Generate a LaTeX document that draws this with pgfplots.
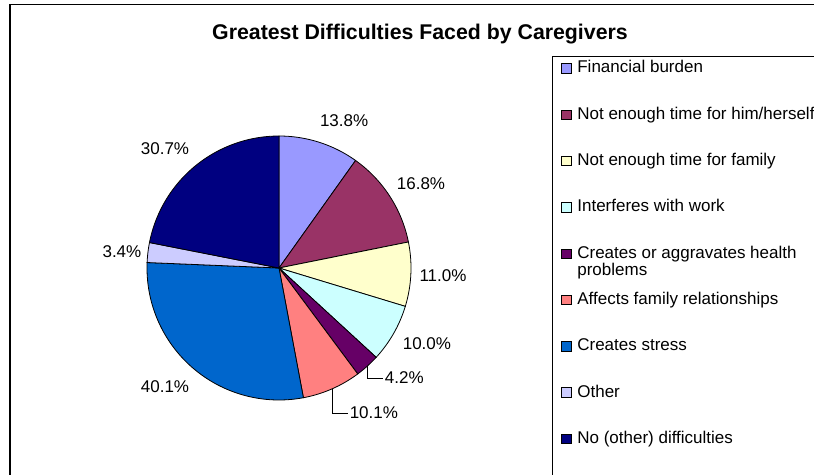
\documentclass[border=0pt]{standalone}
\usepackage{fontspec}
\setmainfont{Liberation Sans}
\usepackage{pgfplots}
\pgfplotsset{compat=1.18}
\usepackage{pgfplotstable}
\usepgfplotslibrary{polar}

\definecolor{pie0}{HTML}{9999FF}
\definecolor{pie1}{HTML}{993366}
\definecolor{pie2}{HTML}{FFFFCC}
\definecolor{pie3}{HTML}{CCFFFF}
\definecolor{pie4}{HTML}{660066}
\definecolor{pie5}{HTML}{FF8080}
\definecolor{pie6}{HTML}{0066CC}
\definecolor{pie7}{HTML}{CCCCFF}
\definecolor{pie8}{HTML}{000080}

% share naming each difficulty (%); where its label sits (angle, radius); leader line or not
\pgfplotstableread{
value labang labrad lead
13.8    66.1  1.218  0
16.8    30.6  1.250  0
11.0    -2.8  1.244  0
10.0   -27.2  1.260  0
4.2    -46.6  1.147  1
10.1   -64.6  1.217  1
40.1  -133.8  1.248  0
3.4    174.2  1.196  0
30.7   133.8  1.248  0
}\piedata

\def\labfont{\fontsize{17}{20}\selectfont}

\begin{document}
\begin{tikzpicture}[x=1pt,y=1pt]
\useasboundingbox (0,0) rectangle (814,474);

\pgfplotstablegetrowsof{\piedata}
\pgfmathtruncatemacro\lastrow{\pgfplotsretval-1}
\def\total{0}
\pgfplotsforeachungrouped \i in {0,...,\lastrow}{%
  \pgfplotstablegetelem{\i}{value}\of\piedata
  \pgfmathsetmacro\total{\total+\pgfplotsretval}%
}

\begin{polaraxis}[
  at={(279pt,206pt)}, anchor=center,
  width=264pt, scale only axis,
  ymin=0, ymax=1,
  hide axis, clip=false,
  legend entries={Financial burden,
    Not enough time for him/herself,
    Not enough time for family,
    Interferes with work,
    {\makebox[0pt][l]{\raisebox{-17.5pt}[0pt][0pt]{problems}}Creates or aggravates health},
    Affects family relationships,
    Creates stress,
    Other,
    No (other) difficulties},
  legend cell align=left,
  legend style={draw=none, fill=none, inner sep=0pt,
    at={(axis description cs:1.568,1.287)}, anchor=north west,
    font=\fontsize{17}{20}\selectfont,
    row sep=30.3pt, column sep=6pt,
    nodes={inner sep=0pt, text height=12.5pt, text depth=3.5pt}},
  legend image code/.code={\draw[#1,draw=black,line width=0.7pt] (0pt,-4.75pt) rectangle (9.5pt,4.75pt);},
]
\def\cum{0}
\pgfplotsforeachungrouped \i in {0,...,\lastrow}{%
  \pgfplotstablegetelem{\i}{value}\of\piedata \let\v\pgfplotsretval
  \pgfplotstablegetelem{\i}{labang}\of\piedata \let\la\pgfplotsretval
  \pgfplotstablegetelem{\i}{labrad}\of\piedata \let\lr\pgfplotsretval
  \pgfplotstablegetelem{\i}{lead}\of\piedata \let\ld\pgfplotsretval
  \pgfmathsetmacro\aone{90-\cum/\total*360}%
  \pgfmathsetmacro\cum{\cum+\v}%
  \pgfmathsetmacro\atwo{90-\cum/\total*360}%
  \pgfmathsetmacro\amid{(\aone+\atwo)/2}%
  \edef\temp{\noexpand\addplot[fill=pie\i, draw=black, line width=0.8pt,
      domain=\atwo:\aone, samples=90] {1} -- (axis cs:0,0) -- cycle;}%
  \temp
  \ifnum\ld=1
    \edef\temp{\noexpand\draw[line width=0.7pt] (axis cs:\amid,1) |- (axis cs:\la,\lr)
      node[anchor=west, inner sep=1.5pt, font=\noexpand\labfont] {\v\noexpand\%};}%
  \else
    \edef\temp{\noexpand\node[font=\noexpand\labfont, inner sep=0pt]
      at (axis cs:\la,\lr) {\v\noexpand\%};}%
  \fi
  \temp
}
\end{polaraxis}

\draw[line width=1.5] (10,-5) -- (10,469.5) -- (830,469.5);
\draw[line width=0.9] (552,-5) -- (552,418) -- (830,418);
\node[font=\fontsize{21.3}{25}\selectfont\bfseries] at (420,440) {Greatest Difficulties Faced by Caregivers};
\end{tikzpicture}
\end{document}
